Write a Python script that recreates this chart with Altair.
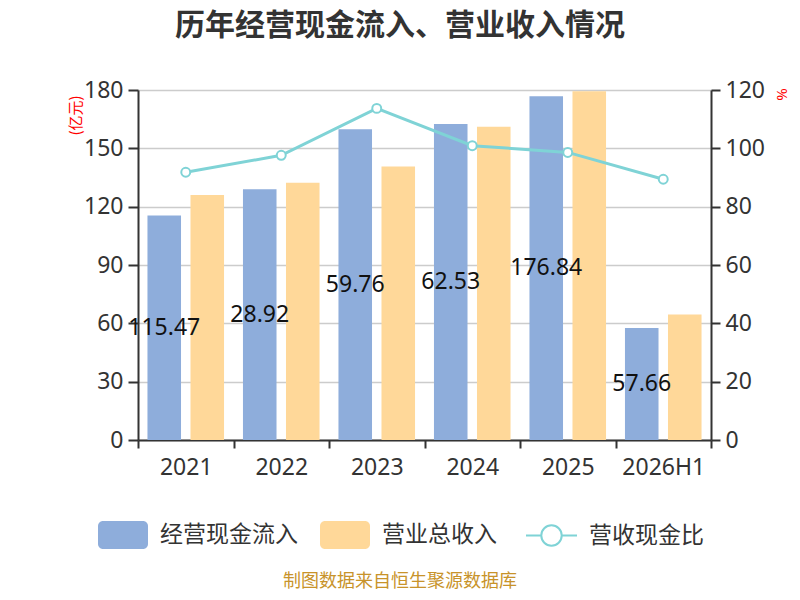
import altair as alt
import pandas as pd

years = ["2021", "2022", "2023", "2024", "2025", "2026H1"]
cash_inflow = [115.47, 128.92, 159.76, 162.53, 176.84, 57.66]
revenue = [126.0, 132.3, 140.6, 161.1, 179.3, 64.6]
ratio = [91.8, 97.6, 113.7, 100.9, 98.6, 89.4]
bar_labels = ["115.47", "28.92", "59.76", "62.53", "176.84", "57.66"]
series = ["经营现金流入", "营业总收入"]
line_name = "营收现金比"
title_text = "历年经营现金流入、营业收入情况"
source_text = "制图数据来自恒生聚源数据库"
left_ticks = [0, 30, 60, 90, 120, 150, 180]
right_ticks = [0, 20, 40, 60, 80, 100, 120]

BLUE = "#8eaddb"
ORANGE = "#ffd899"
TEAL = "#7fd3d6"
NUM_FONT = "Noto Sans"
CJK_FONT = "Noto Sans CJK SC"

bars_df = pd.DataFrame(
    [{"year": y, "series": series[0], "value": v} for y, v in zip(years, cash_inflow)]
    + [{"year": y, "series": series[1], "value": v} for y, v in zip(years, revenue)]
)
labels_df = pd.DataFrame({"year": years, "series": series[0], "value": cash_inflow, "label": bar_labels})
line_df = pd.DataFrame({"year": years, "ratio": ratio, "name": line_name})

x_enc = alt.X(
    "year:N",
    sort=years,
    scale=alt.Scale(domain=years, paddingInner=0, paddingOuter=0),
    axis=alt.Axis(
        title=None, labelAngle=0, tickBand="extent", grid=False,
        labelFont=NUM_FONT, labelFontSize=23, labelColor="#333",
        domainColor="#333", domainWidth=2, tickColor="#333", tickWidth=2,
        tickSize=8, labelPadding=8,
    ),
)
xoff_enc = alt.XOffset("series:N", scale=alt.Scale(domain=series, paddingInner=0.22, paddingOuter=0.22))

left_axis = alt.Axis(
    values=left_ticks, title="(亿元)", titleColor="red", titleFont=CJK_FONT,
    titleFontSize=15, titleFontWeight="normal", titleAngle=-90, titleX=-63, titleY=25,
    titleAlign="center", titleBaseline="middle",
    labelFont=NUM_FONT, labelFontSize=23, labelColor="#333", labelPadding=5,
    domainColor="#333", domainWidth=2, tickColor="#333", tickWidth=2, tickSize=10,
    grid=True, gridColor="#cccccc", gridWidth=1.5,
)
left_scale = alt.Scale(domain=[0, 180], nice=False)

bar_legend = alt.Legend(
    orient="none", legendX=-40, legendY=420, direction="horizontal", title=None,
    symbolType="M-0.8,-0.56L0.8,-0.56A0.2,0.2 0 0 1 1,-0.36L1,0.36A0.2,0.2 0 0 1 0.8,0.56L-0.8,0.56A0.2,0.2 0 0 1 -1,0.36L-1,-0.36A0.2,0.2 0 0 1 -0.8,-0.56Z",
    symbolSize=2500, symbolStrokeWidth=0, labelFont=CJK_FONT, labelFontSize=23,
    labelColor="#333", labelOffset=12, columnPadding=22, padding=0,
)

bars = alt.Chart(bars_df).mark_bar().encode(
    x=x_enc,
    xOffset=xoff_enc,
    y=alt.Y("value:Q", scale=left_scale, axis=left_axis),
    color=alt.Color("series:N", scale=alt.Scale(domain=series, range=[BLUE, ORANGE]), legend=bar_legend),
)

labels = alt.Chart(labels_df).transform_calculate(mid="datum.value / 2").mark_text(
    font=NUM_FONT, fontSize=23, color="#111", baseline="middle", align="center"
).encode(
    x=x_enc,
    xOffset=xoff_enc,
    y=alt.Y("mid:Q", scale=left_scale, axis=left_axis),
    text="label:N",
)

line_legend = alt.Legend(
    orient="none", legendX=387, legendY=419, direction="horizontal", title=None,
    symbolType="M-1,0L-0.4,0M0.4,0L1,0M-0.4,0A0.4,0.4 0 1 1 0.4,0A0.4,0.4 0 1 1 -0.4,0Z",
    symbolSize=2601, symbolStrokeWidth=2, symbolFillColor="white",
    labelFont=CJK_FONT, labelFontSize=23, labelColor="#333", labelOffset=11, padding=0,
)

line = alt.Chart(line_df).mark_line(
    strokeWidth=3,
    point=alt.OverlayMarkDef(filled=False, fill="white", size=80, strokeWidth=2),
).encode(
    x=x_enc,
    y=alt.Y(
        "ratio:Q",
        scale=alt.Scale(domain=[0, 120], nice=False),
        axis=alt.Axis(
            values=right_ticks, orient="right", title="%", titleColor="red",
            titleFont=NUM_FONT, titleFontSize=15, titleFontWeight="normal",
            titleAngle=90, titleX=70, titleY=4, titleAlign="center", titleBaseline="middle",
            labelFont=NUM_FONT, labelFontSize=23, labelColor="#333", labelPadding=5,
            domainColor="#333", domainWidth=2, tickColor="#333", tickWidth=2, tickSize=9,
            grid=False,
        ),
    ),
    stroke=alt.Stroke("name:N", scale=alt.Scale(domain=[line_name], range=[TEAL]), legend=line_legend),
)

title = alt.Chart(pd.DataFrame({"t": [title_text]})).mark_text(
    font=CJK_FONT, fontSize=30, fontWeight="bold", color="#333", align="center", baseline="middle"
).encode(x=alt.value(262), y=alt.value(-64), text="t:N")

footer = alt.Chart(pd.DataFrame({"t": [source_text]})).mark_text(
    font=CJK_FONT, fontSize=18, color="#c8932a", align="center", baseline="middle"
).encode(x=alt.value(262), y=alt.value(492), text="t:N")

chart = alt.layer(
    alt.layer(bars, labels),
    line,
    title,
    footer,
).resolve_scale(y="independent").properties(
    width=573, height=350,
    autosize=alt.AutoSizeParams(type="none"),
    padding={"left": 130, "top": 82, "right": 81, "bottom": 152},
).configure_view(stroke=None).configure(background="white")

chart.save("out.html", embed_options={"renderer": "svg", "actions": False})
